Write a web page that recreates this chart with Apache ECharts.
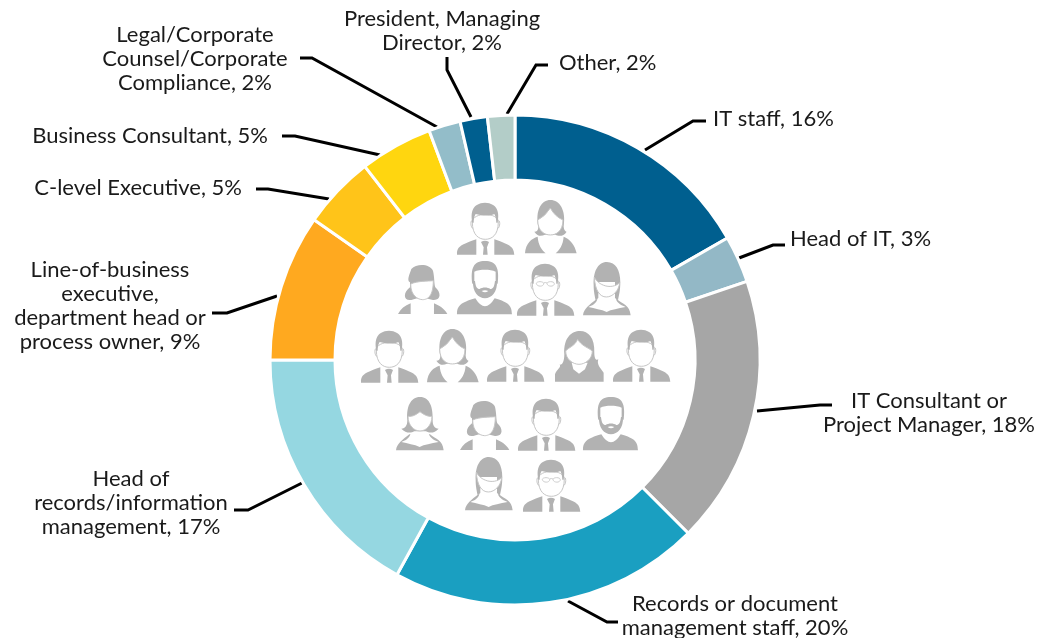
<!DOCTYPE html>
<html>
<head>
<meta charset="utf-8">
<title>Respondents by role</title>
<script src="https://cdn.jsdelivr.net/npm/echarts@6/dist/echarts.min.js"></script>
<style>
html, body { margin: 0; padding: 0; background: #fff; }
#chart { width: 1048px; height: 638px; }
</style>
</head>
<body>
<div id="chart"></div>
<script>
'use strict';

var categories = [
    'IT staff',
    'Head of IT',
    'IT Consultant or\nProject Manager',
    'Records or document\nmanagement staff',
    'Head of\nrecords/information\nmanagement',
    'Line-of-business\nexecutive,\ndepartment head or\nprocess owner',
    'C-level Executive',
    'Business Consultant',
    'Legal/Corporate\nCounsel/Corporate\nCompliance',
    'President, Managing\nDirector',
    'Other'
];
// printed percentages
var percentLabels = [16, 3, 18, 20, 17, 9, 5, 5, 2, 2, 2];
// slice sizes as measured on the ring, they differ a little from the printed ones
var sliceShares = [16.7, 3.1, 17.7, 20.5, 17, 9.7, 4.8, 4.8, 2.1, 1.8, 1.8];
var sliceColors = ['#005f8f', '#93b8c6', '#a6a6a6', '#1a9fc1', '#95d7e1', '#ffa91f', '#ffc419', '#ffd60f', '#93bdc9', '#005f8f', '#b3cdc8'];

// x, y, align of each label
var labelAnchors = [
    [713, 119, 'left'],
    [790, 239, 'left'],
    [929, 413, 'center'],
    [735, 616, 'center'],
    [131, 503, 'center'],
    [110, 306, 'center'],
    [242, 188, 'right'],
    [268, 136, 'right'],
    [195, 59, 'center'],
    [442, 31, 'center'],
    [559, 63, 'left']
];
// leader line of each label: ring end, elbow, label end
var leaderLines = [
    [[645, 150], [693, 121], [706, 121]],
    [[739, 258], [773, 245], [785, 245]],
    [[757, 411], [820, 405], [832, 405]],
    [[568, 601], [607, 622], [618, 622]],
    [[302, 483], [248, 510], [234, 510]],
    [[277, 296], [227, 313], [212, 313]],
    [[329, 199], [268, 189], [256, 189]],
    [[380, 155], [295, 136], [282, 136]],
    [[437, 127], [312, 58], [300, 58]],
    [[471, 117], [447, 70], [447, 57]],
    [[507, 114], [536, 65], [548, 65]]
];

// icon shapes, all in a 172x160 box: [kind, path]
var jacket = ['g', 'M0 158C0 136 6 130 58 112V158ZM112 112C164 130 170 136 172 158H112ZM72 120Q84 112 96 120L90 136L92 158H78L80 136Z'];
var manFace = ['f', 'M46 60C46 100 66 112 85 112C104 112 124 100 124 60C124 30 46 30 46 60ZM46 55C40 55 40 75 48 80M124 55C130 55 130 75 122 80'];
var manHair = ['g', 'M46 62C40 30 46 4 84 2C122 4 128 30 122 62L118 62C118 48 114 40 112 36C95 44 70 40 56 36C52 42 50 50 50 62Z'];
var glasses = ['l', 'M58 62C58 54 80 54 80 62C80 72 60 72 58 62ZM90 62C90 54 112 54 112 62C112 72 92 72 90 62ZM80 60Q85 57 90 60'];
var neckline = ['w', 'M16 135C35 128 42 120 44 108H98C100 120 110 128 128 135C105 140 85 142 71 150C55 142 35 140 16 135Z'];
var lowBody = ['g', 'M0 160C2 140 20 128 40 112H102C120 128 140 128 143 160Z'];

var iconShapes = {
    man: [manFace, manHair, jacket],
    glasses: [manFace, manHair, glasses, jacket],
    beard: [
        ['g', 'M0 160C0 135 10 125 55 112Q84 160 113 112C158 125 164 135 165 160Z'],
        ['w', 'M48 60C48 100 66 112 84 112C102 112 120 100 120 60C120 20 48 20 48 60Z'],
        ['g', 'M46 70C40 20 50 0 84 0C118 0 128 20 122 70L116 60L116 32C100 24 68 24 52 32L52 60ZM48 60L54 60C56 78 60 84 68 84C76 78 92 78 100 84C108 84 112 78 114 60L120 60C122 92 104 112 84 112C64 112 46 92 48 60Z'],
        ['w', 'M74 90Q84 86 94 90Q84 98 74 90Z']
    ],
    flip: [
        ['g', 'M40 80C30 30 50 0 76 0C104 0 124 30 116 80C118 95 125 95 125 95C115 112 98 108 92 104H60C50 108 40 112 28 95C36 95 40 90 40 80Z'],
        ['f', 'M38 60C38 95 60 105 76 105C92 105 114 95 114 60Q90 50 76 24Q60 50 38 60Z'],
        ['g', 'M0 160C2 130 20 115 38 110C40 135 50 150 62 160ZM92 160C104 150 114 135 116 110C134 116 150 135 155 160Z']
    ],
    curly: [
        ['g', 'M36 55C25 50 35 30 40 15C55 -2 95 -2 105 20C110 40 108 60 112 70C130 85 130 110 105 108C80 100 60 100 40 108C15 112 15 85 36 70Z'],
        ['f', 'M38 60C38 95 60 107 74 107C90 107 106 95 106 50C90 52 60 50 38 60Z'],
        ['g', 'M0 150C8 135 20 125 38 118V150ZM108 118C125 125 140 135 148 150H108Z']
    ],
    swept: [
        lowBody,
        neckline,
        ['g', 'M32 70C30 20 50 0 72 0C98 0 112 25 112 60C112 85 108 100 105 115L96 108V60H46V108L38 115C34 95 32 85 32 70Z'],
        ['f', 'M34 45C45 70 85 85 110 62C108 85 90 105 70 105C50 105 36 85 34 45Z']
    ],
    wavy: [
        ['g', 'M28 70C25 20 50 0 75 0C100 0 120 20 118 65C118 80 122 90 130 85C125 100 135 110 146 125V152H0V130C5 115 20 110 14 100C22 105 28 90 28 70Z'],
        ['w', 'M50 95L98 95L90 115L72 128L55 115Z'],
        ['f', 'M32 60C40 50 60 45 68 25C80 45 100 50 112 60C112 85 90 100 72 100C54 100 32 85 32 60Z']
    ],
    bob: [
        lowBody,
        neckline,
        ['g', 'M34 70C30 20 50 0 72 0C95 0 112 20 110 70C110 85 115 95 128 95C115 110 100 108 90 103H55C45 108 30 110 16 95C28 95 34 85 34 70Z'],
        ['f', 'M36 58C50 60 62 52 72 44C82 52 96 60 108 58C108 85 90 102 72 102C54 102 36 85 36 58Z']
    ]
};
var iconPlacement = [
    ['man', 457, 202], ['flip', 525, 200],
    ['curly', 398, 264], ['beard', 457, 261], ['glasses', 517, 263], ['swept', 583, 262],
    ['man', 361, 330], ['flip', 427, 329], ['man', 487, 329], ['wavy', 555, 331], ['man', 613, 329],
    ['bob', 396, 397], ['curly', 460, 400], ['man', 518, 398], ['beard', 583, 397],
    ['swept', 465, 457], ['glasses', 523, 459]
];

function renderIcon(params) {
    var item = iconPlacement[params.dataIndex];
    return {
        type: 'group',
        children: iconShapes[item[0]].map(function(part) {
            var kind = part[0];
            return {
                type: 'path',
                // the two empty moves keep every part in the same box when it gets resized
                shape: {
                    pathData: 'M0 0L0 0M172 160L172 160' + part[1],
                    x: item[1],
                    y: item[2],
                    width: 57.3,
                    height: 53.3,
                    layout: 'cover'
                },
                style: {
                    fill: kind == 'g' ? '#b2b2b2' : (kind == 'l' ? 'none' : '#fff'),
                    stroke: kind == 'f' ? '#c6c6c6' : (kind == 'l' ? '#cfcfcf' : 'none'),
                    lineWidth: 1
                }
            };
        })
    };
}

var chart = echarts.init(document.getElementById('chart'), null, {renderer: 'canvas'});

chart.setOption({
    backgroundColor: '#fff',
    animation: false,
    series: [{
        type: 'pie',
        center: [515, 360],
        radius: [180, 245],
        startAngle: 90,
        avoidLabelOverlap: false,
        itemStyle: {borderColor: '#fff', borderWidth: 3},
        label: {
            show: true,
            color: '#1a1a1a',
            fontFamily: 'Lato',
            fontSize: 22,
            lineHeight: 24,
            formatter: function(params) {
                return params.name + ', ' + percentLabels[params.dataIndex] + '%';
            }
        },
        labelLine: {
            show: true,
            lineStyle: {color: '#000', width: 3}
        },
        labelLayout: function(params) {
            var anchor = labelAnchors[params.dataIndex];
            return {
                x: anchor[0],
                y: anchor[1],
                align: anchor[2],
                verticalAlign: 'middle',
                labelLinePoints: leaderLines[params.dataIndex]
            };
        },
        data: categories.map(function(name, i) {
            return {name: name, value: sliceShares[i], itemStyle: {color: sliceColors[i]}};
        })
    }, {
        type: 'custom',
        coordinateSystem: 'none',
        silent: true,
        renderItem: renderIcon,
        data: iconPlacement.map(function(item) { return item[0]; })
    }]
});
</script>
</body>
</html>
